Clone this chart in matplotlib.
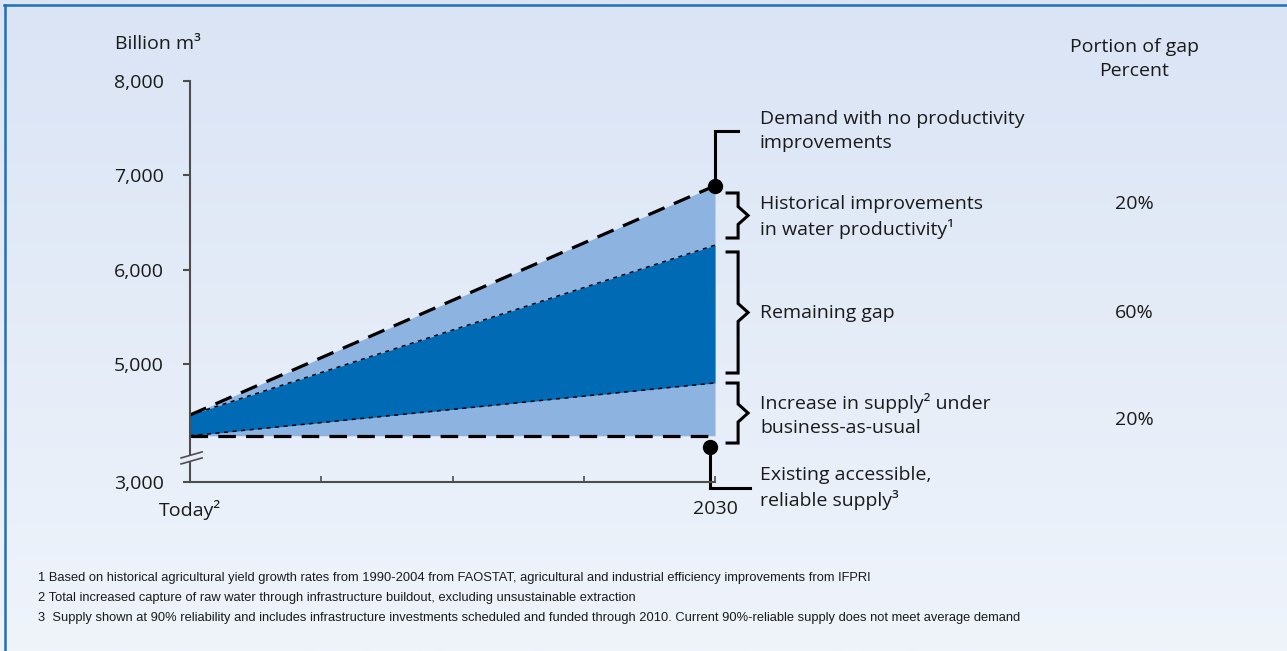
import numpy as np
import matplotlib.pyplot as plt
from matplotlib.colors import LinearSegmentedColormap
from matplotlib.lines import Line2D
from matplotlib.patches import Polygon

# water demand vs supply, billion m3 (Today -> 2030)
x = [0, 1]
period_labels = ['Today²', '', '', '', '2030']
demand_no_improvement = [4460, 6890]
demand_with_history = [4460, 6260]
supply_with_increase = [4240, 4800]
supply_existing = [4240, 4240]

y_ticks = [3750, 5000, 6000, 7000, 8000]   # bottom tick sits below the axis break
y_tick_labels = ['3,000', '5,000', '6,000', '7,000', '8,000']

gap_labels = ['Historical improvements\nin water productivity¹',
              'Remaining gap',
              'Increase in supply² under\nbusiness-as-usual']
gap_share = ['20%', '60%', '20%']
# brace spans (billion m3) for the three gap segments
brace_spans = [(6813, 6336), (6188, 4905), (4799, 4163)]

footnotes = [
    '1 Based on historical agricultural yield growth rates from 1990-2004 from FAOSTAT, agricultural and industrial efficiency improvements from IFPRI',
    '2 Total increased capture of raw water through infrastructure buildout, excluding unsustainable extraction',
    '3  Supply shown at 90% reliability and includes infrastructure investments scheduled and funded through 2010. Current 90%-reliable supply does not meet average demand',
]

light = '#8db3e0'
dark = '#006ab4'
axis_col = '#4d4d4d'
txt_col = '#1a1a1a'
main_font = 'Open Sans'
fs = 14

W, H = 1287, 651
fig = plt.figure(figsize=(W / 100, H / 100), dpi=100)


def fx(px):
    return px / W


def fy(py):
    return 1 - py / H


# background gradient
bg = fig.add_axes([0, 0, 1, 1], zorder=-10)
grad = np.linspace(0, 1, 256).reshape(-1, 1)
cmap = LinearSegmentedColormap.from_list('bg', ['#dae4f5', '#eff4fb'])
bg.imshow(grad, aspect='auto', cmap=cmap, extent=[0, 1, 0, 1], origin='upper')
bg.set_xlim(0, 1)
bg.set_ylim(0, 1)
bg.axis('off')
fig.add_artist(Line2D([fx(4), fx(W)], [fy(5), fy(5)], color='#1f70b8', lw=1.8))
fig.add_artist(Line2D([fx(4.5), fx(4.5)], [0, fy(5)], color='#1f70b8', lw=1.8))

ax = fig.add_axes([fx(190), fy(482), (715 - 190) / W, (482 - 81) / H])
ax.patch.set_alpha(0)

ax.fill_between(x, demand_no_improvement, supply_existing, color=light, lw=0)
ax.fill_between(x, demand_with_history, supply_with_increase, color=dark, lw=0)
ax.plot(x, demand_with_history, color='k', lw=1.1, dashes=(2.6, 3))
ax.plot(x, supply_with_increase, color='k', lw=1.1, dashes=(2.6, 3))
ax.plot(x, demand_no_improvement, color='k', lw=2.3, dashes=(5.5, 3.2))
ax.plot(x, supply_existing, color='k', lw=2.3, dashes=(5.5, 3.2))

ax.set_xlim(0, 1)
ax.set_ylim(3750, 8000)
ax.set_xticks(np.linspace(0, 1, 5))
ax.set_xticklabels(period_labels)
ax.set_yticks(y_ticks)
ax.set_yticklabels(y_tick_labels)
for s in ['top', 'right']:
    ax.spines[s].set_visible(False)
for s in ['left', 'bottom']:
    ax.spines[s].set_color(axis_col)
    ax.spines[s].set_linewidth(1.5)
ax.tick_params(axis='x', direction='in', length=4.5, width=1.2, color=axis_col, pad=13,
               labelsize=fs, labelcolor=txt_col)
ax.tick_params(axis='y', direction='out', length=5, width=1.5, color=axis_col, pad=14,
               labelsize=fs, labelcolor=txt_col)
for lab in ax.get_xticklabels() + ax.get_yticklabels():
    lab.set_fontfamily(main_font)

# axis break marks
brk = Polygon([[-0.017, 0.045], [0.023, 0.06], [0.023, 0.075], [-0.017, 0.06]],
              closed=True, transform=ax.transAxes, facecolor='#e8eef9', edgecolor='none',
              clip_on=False, zorder=5)
ax.add_patch(brk)
for y0 in (0.045, 0.06):
    ax.plot([-0.017, 0.023], [y0, y0 + 0.015], color=axis_col, lw=1.2,
            transform=ax.transAxes, clip_on=False, zorder=6)

# end markers with connectors
ax.plot([1.0, 1.0, 1.044], [demand_no_improvement[1], 7470, 7470], color='k', lw=2.2,
        clip_on=False, solid_joinstyle='miter')
ax.plot([1.0], [demand_no_improvement[1]], 'o', color='k', ms=10, clip_on=False)
ax.plot([0.99, 0.99, 1.067], [4120, 3690, 3690], color='k', lw=2.2,
        clip_on=False, solid_joinstyle='miter')
ax.plot([0.99], [4120], 'o', color='k', ms=10, clip_on=False)

# braces
xs, xv, xt = 1.023, 1.044, 1.063
for top, bot in brace_spans:
    mid = (top + bot) / 2
    ax.plot([xs, xv, xv, xt, xv, xv, xs],
            [top, top, mid + 95, mid, mid - 95, bot, bot],
            color='k', lw=2.2, clip_on=False, solid_joinstyle='miter')

# labels
kw = dict(fontsize=fs, color=txt_col, family=main_font, linespacing=1.42)
fig.text(fx(760), fy(131), 'Demand with no productivity\nimprovements', va='center', ha='left', **kw)
label_y = [217, 313, 415]
for lab, py in zip(gap_labels, label_y):
    fig.text(fx(760), fy(py), lab, va='center', ha='left', **kw)
share_y = [204, 313, 420]
for share, py in zip(gap_share, share_y):
    fig.text(fx(1134), fy(py), share, va='center', ha='center', **kw)
fig.text(fx(760), fy(488), 'Existing accessible,\nreliable supply³', va='center', ha='left', **kw)
fig.text(fx(1134), fy(59), 'Portion of gap\nPercent', va='center', ha='center', **kw)
fig.text(fx(115), fy(44), 'Billion m³', va='center', ha='left', **kw)

for i, note in enumerate(footnotes):
    fig.text(fx(38), fy(578 + 20 * i), note, va='center', ha='left', fontsize=9.3,
             color=txt_col, family='Liberation Sans')

fig.savefig('out.png', dpi=100)
